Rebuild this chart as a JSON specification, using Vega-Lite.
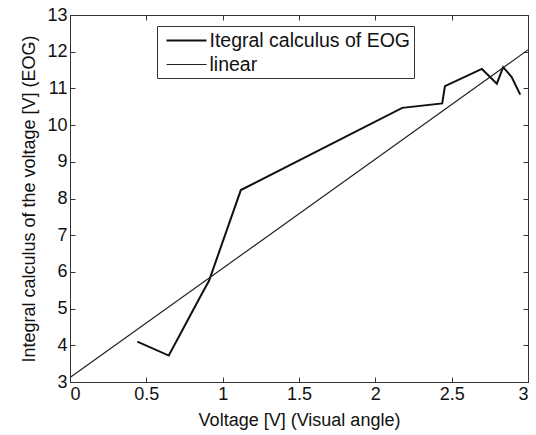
{
  "$schema": "https://vega.github.io/schema/vega-lite/v6.json",
  "width": 458,
  "height": 367,
  "autosize": {"type": "none"},
  "padding": {"left": 70, "top": 15, "right": 8, "bottom": 53},
  "background": "white",
  "config": {
    "view": {"stroke": "#333", "strokeWidth": 1},
    "axis": {"grid": false, "domainColor": "#333", "tickColor": "#333", "labelColor": "#111", "titleColor": "#111", "labelFont": "Liberation Sans", "labelFontSize": 18, "titleFont": "Liberation Sans", "titleFontSize": 18, "titleFontWeight": "normal", "tickSize": -5, "labelPadding": 8}
  },
  "datasets": {
    "eog": [
      {"x": 0.441, "y": 4.10, "series": "Itegral calculus of EOG"},
      {"x": 0.647, "y": 3.72, "series": "Itegral calculus of EOG"},
      {"x": 0.87, "y": 5.45, "series": "Itegral calculus of EOG"},
      {"x": 0.91, "y": 5.75, "series": "Itegral calculus of EOG"},
      {"x": 1.119, "y": 8.23, "series": "Itegral calculus of EOG"},
      {"x": 2.176, "y": 10.47, "series": "Itegral calculus of EOG"},
      {"x": 2.438, "y": 10.59, "series": "Itegral calculus of EOG"},
      {"x": 2.456, "y": 11.06, "series": "Itegral calculus of EOG"},
      {"x": 2.698, "y": 11.53, "series": "Itegral calculus of EOG"},
      {"x": 2.796, "y": 11.13, "series": "Itegral calculus of EOG"},
      {"x": 2.837, "y": 11.58, "series": "Itegral calculus of EOG"},
      {"x": 2.893, "y": 11.31, "series": "Itegral calculus of EOG"},
      {"x": 2.949, "y": 10.83, "series": "Itegral calculus of EOG"}
    ],
    "lin": [
      {"x": 0, "y": 3.12, "series": "linear"},
      {"x": 3, "y": 12.05, "series": "linear"}
    ]
  },
  "layer": [
    {
      "data": {"name": "eog"},
      "mark": {"type": "line", "clip": true},
      "encoding": {
        "x": {"field": "x", "type": "quantitative", "scale": {"domain": [0, 3], "nice": false}, "axis": {"values": [0, 0.5, 1, 1.5, 2, 2.5, 3], "title": "Voltage [V] (Visual angle)", "format": "~g", "titlePadding": 8}},
        "y": {"field": "y", "type": "quantitative", "scale": {"domain": [3, 13], "nice": false, "zero": false}, "axis": {"values": [3,4,5,6,7,8,9,10,11,12,13], "title": "Integral calculus of the voltage [V] (EOG)", "titlePadding": 8}},
        "color": {"field": "series", "type": "nominal", "scale": {"domain": ["Itegral calculus of EOG", "linear"], "range": ["#111111", "#222222"]},
          "legend": {"orient": "none", "legendX": 87, "legendY": 11, "title": null, "symbolType": "M-0.5,0H3.5", "symbolSize": 400, "symbolStrokeWidth": 2, "symbolFillColor": "transparent", "labelFont": "Liberation Sans", "labelFontSize": 19.5, "labelLimit": 0, "labelColor": "#111", "strokeColor": "#333", "fillColor": "white", "padding": 3.5, "rowPadding": 3, "labelOffset": 27, "symbolOffset": 0}},
        "strokeWidth": {"field": "series", "type": "nominal", "scale": {"domain": ["Itegral calculus of EOG", "linear"], "range": [2, 1.2]}, "legend": null}
      }
    },
    {
      "data": {"name": "lin"},
      "mark": {"type": "line", "clip": true},
      "encoding": {
        "x": {"field": "x", "type": "quantitative", "axis": {"orient": "top", "values": [0, 0.5, 1, 1.5, 2, 2.5, 3], "labels": false, "title": null}},
        "y": {"field": "y", "type": "quantitative", "axis": {"orient": "right", "values": [3,4,5,6,7,8,9,10,11,12,13], "labels": false, "title": null}},
        "color": {"field": "series", "type": "nominal"},
        "strokeWidth": {"field": "series", "type": "nominal"}
      }
    }
  ],
  "resolve": {"axis": {"x": "independent", "y": "independent"}}
}
